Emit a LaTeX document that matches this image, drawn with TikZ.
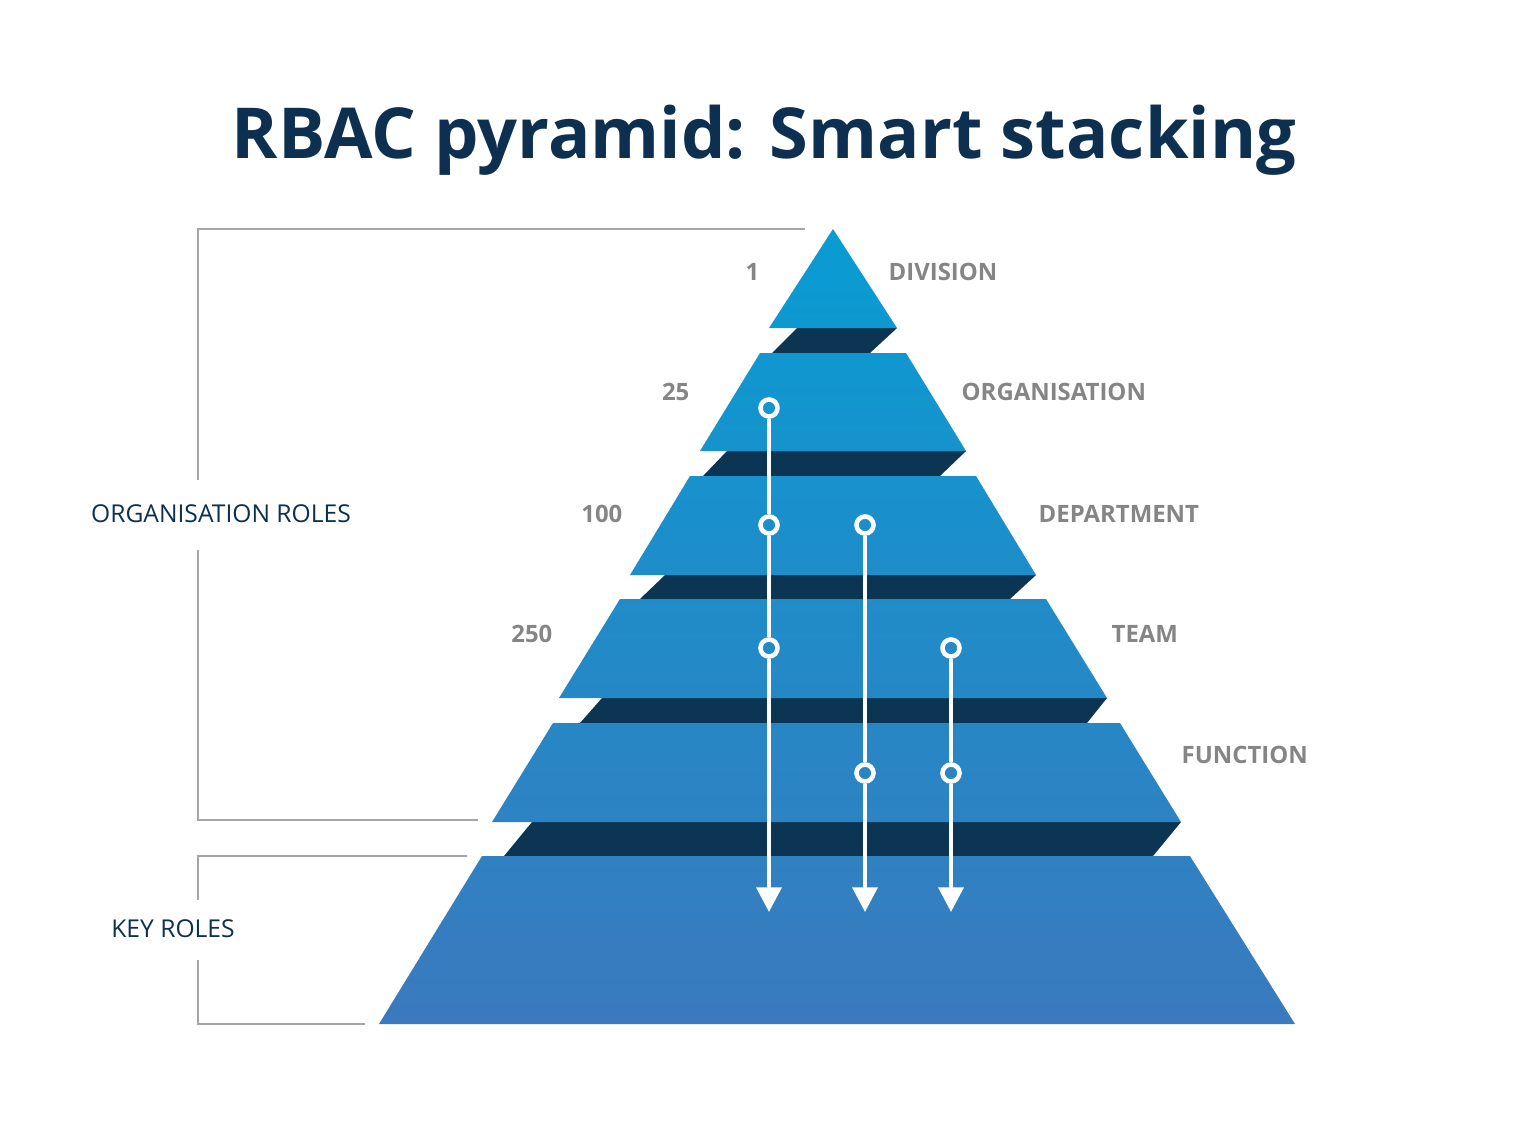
\documentclass[tikz,border=0pt]{standalone}
\usepackage{fontspec}
\setmainfont{Open Sans}
\usetikzlibrary{arrows.meta}
\definecolor{navy}{HTML}{0D3050}
\definecolor{band}{HTML}{0C3553}
\definecolor{tiertop}{HTML}{00A2D6}
\definecolor{tierbot}{HTML}{4274BA}
\definecolor{labelgray}{HTML}{858585}
\begin{document}
\begin{tikzpicture}[x=0.01cm, y=-0.01cm,
    num/.style={font=\fontsize{6.8}{8}\selectfont\bfseries, text=labelgray, anchor=east, inner sep=0pt},
    level/.style={font=\fontsize{6.8}{8}\selectfont\bfseries, text=labelgray, anchor=west, inner sep=0pt},
    group/.style={font=\fontsize{7}{8}\selectfont, text=navy, inner sep=0pt},
    bracket/.style={draw=gray!70, line width=0.5pt},
    flow/.style={draw=white, line width=1.3pt, -{Triangle[width=7pt,length=7pt]}},
    stop/.style={circle, draw=white, line width=1.3pt, minimum size=17pt*0.2845, inner sep=0pt}]
    \useasboundingbox (0,0) rectangle (1536,1141);

    \node [font=\fontsize{20}{24}\selectfont\bfseries, text=navy] (title) at (764,140) {RBAC pyramid: Smart stacking};

    % dark bands
    \foreach \ta/\tb/\ba/\bb/\ya/\yb in {797/897/772/870/328/353, 727/966/703/940/451/476,
        665/1036/640/1010/575/599, 602/1107/580/1087/698/723, 532/1181/504/1153/822/856} {
        \fill [band] (\ta,\ya) -- (\tb,\ya) -- (\bb,\yb) -- (\ba,\yb) -- cycle;
    }

    % tiers
    \begin{scope}
        \clip (833,229) -- (897,328) -- (769,328) -- cycle
              (760,353) -- (906,353) -- (966,451) -- (700,451) -- cycle
              (690,476) -- (976,476) -- (1036,575) -- (630,575) -- cycle
              (620,599) -- (1046,599) -- (1107,698) -- (559,698) -- cycle
              (553,723) -- (1120,723) -- (1181,822) -- (492,822) -- cycle
              (482,856) -- (1190,856) -- (1295,1024) -- (379,1024) -- cycle;
        \shade [shading angle=-30, top color=tiertop, bottom color=tierbot] (250,100) rectangle (1420,1150);
    \end{scope}

    % numbers and levels
    \foreach \y/\n/\xn/\l/\xl in {272/1/760/DIVISION/888, 392/25/690/ORGANISATION/961,
        514/100/623/DEPARTMENT/1038, 634/250/553/TEAM/1111, 755//0/FUNCTION/1181} {
        \node [num] at (\xn,\y) {\n};
        \node [level] at (\xl,\y) {\l};
    }

    % group brackets
    \node [group] (orgroles) at (221,514) {ORGANISATION ROLES};
    \node [group] (keyroles) at (173,929) {KEY ROLES};
    \draw [bracket] (805,229) -| (198,480);
    \draw [bracket] (198,550) |- (478,820);
    \draw [bracket] (467,856) -| (198,900);
    \draw [bracket] (198,960) |- (365,1024);

    % inheritance flows
    \node [stop] (a1) at (769,408) {};
    \node [stop] (a2) at (769,525) {};
    \node [stop] (a3) at (769,648) {};
    \node [stop] (b1) at (865,525) {};
    \node [stop] (b2) at (865,773) {};
    \node [stop] (c1) at (951,648) {};
    \node [stop] (c2) at (951,773) {};
    \coordinate (aend) at (769,912);
    \coordinate (bend) at (865,912);
    \coordinate (cend) at (951,912);
    \draw [draw=white, line width=1.3pt] (a1) -- (a2) (a2) -- (a3) (b1) -- (b2) (c1) -- (c2);
    \draw [flow] (a3) -- (aend);
    \draw [flow] (b2) -- (bend);
    \draw [flow] (c2) -- (cend);
\end{tikzpicture}
\end{document}
